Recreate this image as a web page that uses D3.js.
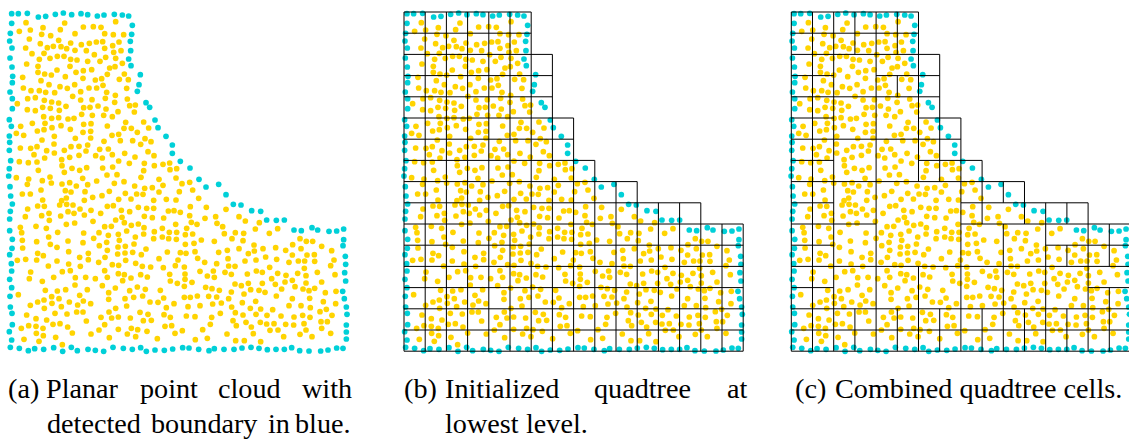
<!DOCTYPE html>
<html><head><meta charset="utf-8">
<script src="https://cdn.jsdelivr.net/npm/d3@7"></script>
<style>html,body{margin:0;background:#fff}svg{display:block}text{font-family:"Liberation Serif",serif;font-size:28.2px;fill:#000}</style>
</head><body><svg id="c" width="1129" height="442"></svg>
<script>
const boundaryPoints=[[35,41],[55,41],[82,40],[115,51],[137,49],[166,43],[190,39],[215,44],[243,41],[263,44],[292,48],[312,45],[343,43],[367,45],[386,48],[397,76],[395,103],[391,124],[392,152],[386,177],[393,197],[421,224],[417,254],[412,274],[438,308],[449,322],[465,360],[474,383],[498,409],[517,435],[517,460],[541,484],[570,504],[597,538],[35,70],[31,100],[29,123],[36,144],[30,174],[36,201],[38,229],[37,248],[30,276],[37,296],[37,326],[28,359],[34,379],[28,408],[29,427],[28,451],[32,482],[28,506],[26,528],
[30,560],[32,588],[37,612],[31,634],[29,657],[29,692],[37,718],[36,745],[29,764],[34,791],[35,813],[29,838],[35,863],[30,889],[31,921],[36,940],[37,974],[28,995],[35,1020],[31,1042],[58,1045],[85,1052],[104,1046],[131,1048],[161,1043],[188,1054],[214,1042],[232,1052],[264,1048],[286,1051],[311,1054],[339,1042],[370,1045],[397,1048],[422,1043],[439,1054],[465,1050],[493,1051],[518,1047],[548,1043],[567,1044],[596,1048],[627,1052],[643,1046],[672,1048],[702,1048],[726,1044],[753,1042],[777,1045],[802,1049],[828,1048],[853,1048],[875,1043],[899,1052],[927,1053],[962,1053],[984,1050],[1010,1044],[1029,1045],[1039,1017],[1039,996],[1039,975],[1041,943],[1039,921],[1033,896],[1028,874],[1037,843],[1034,818],[1037,793],[1036,769],[1029,737],[1031,719],[1031,687],[1010,693],[987,694],[953,690],[936,683],[904,692],[882,690],[853,660],[829,661],[800,660],[782,634],[755,632],[723,615],[700,613],[678,584],[656,553],[618,561]];
const interiorTop=[[78,68],[194,69],[347,65],[129,83],[250,81],[280,80],[303,82],[58,94],[91,90],[181,89],[125,103],[152,107],[225,101],[314,101],[340,104],[371,104],[88,117],[176,121],[121,131],[212,129],[244,134],[268,130],[289,126],[308,125],[357,126],[338,137],[77,144],[142,143],[160,139],[183,140],[200,146],[225,151],[259,152],[314,145],[341,157],[363,152],[96,161],[132,160],[283,164],[118,178],[150,175],[172,169],[192,169],[212,178],[231,180],[263,184],[300,184],[317,172],[347,175],[367,190],[80,192],[114,199],[210,199],[329,204],[345,200],[114,217],[134,222],[154,225],[171,210],[228,217],[250,212],[275,209],[322,223],[373,222],[68,232],[196,230],[249,235],[286,240],[305,236],[358,238],[385,239],[123,242],[147,254],[180,260],[202,265],[224,254],[309,256],[70,264],[93,272],[118,272],[137,277],[164,278],[242,275],[267,264],[290,264],[320,277],[380,265],[346,286],[218,289],[83,296],[106,293],[133,301],[155,306],[176,309],[242,300],[276,299],[316,295],[344,307],[382,297],[52,311],[198,319],[294,318],[389,317],[406,315],[82,329],[106,332],[128,322],[151,325],[178,331],[251,323],[270,322],[318,327],[354,335],[403,336],[131,350],[155,355],[176,353],[204,357],[222,355],[245,343],[277,346],[311,346],[337,350],[97,370],[135,370],[62,379],[183,377],[156,383],[251,373],[273,371],[322,378],[377,367],[431,366],[372,385],[394,385],[446,384],[112,393],[132,389],[211,388],[49,400],[71,406],[249,397],[272,394],[412,397],[336,406],[356,403],[163,409],[226,415],[272,414],[126,420],[361,422],[312,424],[398,422],[435,416],[453,425],[422,433],[61,444],[92,445],[111,440],[162,432],[213,440],[237,439],[263,435],[299,448],[325,447],[140,452],[258,453],[444,455],[163,459],[102,464],[237,466],[209,472],[193,451],[287,467],[307,474],[337,464],[374,460],[405,471],[462,467],[134,474],[185,479],[58,485],[85,488],[111,486],[356,483],[388,490],[433,490],[489,493],[463,497],[509,489],[186,497],[338,501],[308,504],[216,505],[260,503],[239,511],[115,511],[193,517],[431,512],[510,509],[530,506],[321,525],[351,524],[150,531],[49,533],[86,537],[248,535],[423,532],[477,538],[528,534]];
// second half: y values relative to the lower crop of the cloud
const interiorLower=[[127,2],[154,9],[186,12],[209,8],[229,18],[263,14],[290,3],[343,10],[372,5],[404,18],[434,25],[457,23],[489,16],[546,11],[569,7],[82,13],[123,30],[196,32],[213,36],[255,35],[67,42],[91,42],[328,34],[376,40],[410,42],[429,43],[477,36],[538,35],[578,30],[278,52],[306,47],[199,54],[128,60],[185,62],[253,61],[356,58],[393,57],[461,61],[499,58],[528,60],[596,55],[113,78],[133,79],[179,75],[200,73],[219,75],[322,79],[340,77],[415,82],[440,85],[461,85],[571,80],[619,82],[83,87],[240,87],[273,91],[364,91],[389,95],[505,93],[522,92],[541,97],[678,88],[125,107],[147,100],[182,108],[204,95],[222,100],[253,105],[302,100],[76,110],[366,112],[433,109],[457,113],[491,114],[569,107],[615,115],[647,110],[717,110],[736,123],[778,128],[148,121],[347,120],[279,124],[373,128],[574,127],[651,130],[199,133],[224,129],[394,136],[415,132],[527,133],[591,133],[668,140],[108,139],[61,142],[139,145],[314,140],[334,139],[432,143],[487,145],[560,145],[766,147],[833,146],[65,158],[173,157],[251,159],[297,158],[325,166],[355,163],[380,153],[463,155],[508,157],[530,157],[556,164],[578,162],[673,161],[706,158],[731,160],[808,160],[146,171],[281,175],[406,171],[431,162],[461,176],[487,171],[506,176],[529,178],[604,180],[696,176],[900,176],[67,181],[110,185],[204,183],[249,188],[320,187],[358,181],[402,192],[556,193],[582,190],[643,184],[729,182],[919,184],[938,184],[151,193],[171,202],[298,197],[354,201],[376,199],[762,195],[878,194],[68,204],[206,215],[322,211],[438,207],[375,219],[353,222],[398,217],[502,216],[541,218],[558,220],[585,215],[656,217],[682,211],[717,206],[763,213],[789,206],[827,203],[857,211],[903,206],[965,199],[995,212],[113,220],[130,227],[265,220],[239,232],[424,224],[745,221],[877,225],[921,225],[943,224],[797,231],[52,241],[77,238],[110,240],[171,243],[265,239],[315,232],[296,247],[377,241],[407,250],[477,236],[534,240],[593,235],[684,236],[614,247],[650,251],[735,243],[768,240],[830,238],[867,247],[895,243],[914,243],[944,244],[1002,240],[145,258],[206,252],[241,259],[337,254],[356,256],[427,259],[452,261],[490,263],[526,257],[553,261],[686,258],[705,259],[992,257],[913,265],[809,262],[92,276],[187,275],[211,272],[314,272],[355,281],[373,284],[422,284],[442,291],[509,283],[555,282],[600,274],[640,273],[675,277],[694,283],[742,282],[769,273],[787,277],[833,280],[893,280],[952,277],[1005,284],[622,288],[643,292],[858,286],[918,287],[88,296],[161,292],[226,293],[257,292],[286,296],[322,292],[393,294],[368,302],[511,303],[555,298],[815,296],[877,301],[532,310],[576,307],[965,306],[745,310],[787,310],[855,306],[918,309],[127,304],[225,315],[307,317],[553,319],[705,312],[724,317],[826,313],[136,331],[172,333],[197,329],[262,329],[346,324],[389,332],[412,321],[436,328],[481,331],[617,322],[636,326],[658,331],[694,336],[752,329],[777,331],[795,337],[845,327],[885,320],[909,327],[927,332],[944,325],[1008,334],[732,342],[55,344],[326,338],[239,346],[155,350],[177,356],[428,348],[401,352],[375,356],[491,354],[553,352],[571,352],[592,348],[626,349],[650,351],[686,356],[829,348],[877,356],[929,355],[976,338],[970,365],[132,360],[113,366],[91,376],[156,370],[208,366],[250,363],[272,371],[326,358],[450,366],[474,367],[522,371],[664,369],[727,368],[767,364],[1007,371],[133,385],[184,380],[233,375],[380,378],[499,383],[564,380],[600,377],[638,372],[695,381],[751,385],[782,387],[818,389],[867,377],[903,377],[931,383],[979,388],[960,395],[347,385],[327,396],[230,396],[249,396],[165,400],[201,402],[420,397],[444,403],[492,404],[661,400],[706,398],[768,403],[80,405],[801,406],[843,408],[908,406],[996,406],[108,416],[140,420],[303,412],[335,414],[355,411],[391,414],[511,412],[559,408],[585,410],[635,412],[729,405],[882,411],[930,412],[259,423],[430,422],[454,421],[699,422],[738,427],[781,427],[800,432],[822,431],[857,433],[881,435],[912,431],[963,425],[982,425],[64,445],[86,437],[108,439],[129,445],[159,433],[180,431],[203,441],[314,434],[495,439],[515,437],[631,433],[709,437],[754,441],[965,445],[109,460],[130,467],[217,459],[297,450],[355,448],[394,445],[413,449],[441,454],[547,452],[608,449],[810,451],[834,450],[918,450],[992,460],[273,462],[382,462],[407,470],[525,460],[681,462],[760,461],[851,470],[900,463],[936,470],[72,478],[167,472],[328,473],[472,476],[586,479],[622,475],[707,482],[733,482],[782,485],[117,484],[187,494]];
const lowerCropStart=540;
const rowWidths=[6,6,7,7,7,8,8,9,11,14,16,16,16,16,16,16];
const combinedH=[[0,0,6],[1,0,6],[2,0,7],[3,0,2],[3,4,7],[4,0,7],[5,0,2],[5,6,8],[6,0,8],[7,0,2],[7,6,9],[8,0,11],[9,0,2],[9,8,14],[10,0,4],[10,8,16],[11,0,2],[11,12,16],[12,0,16],[13,0,2],[13,14,16],[14,0,16],[15,0,16],[16,0,16]];
const combinedV=[[0,0,16],[1,0,16],[2,0,16],[3,0,2],[3,14,16],[4,0,16],[5,0,2],[5,3,4],[5,14,16],[6,0,8],[6,12,16],[7,2,8],[7,14,16],[8,5,16],[9,7,10],[9,14,16],[10,8,9],[10,10,16],[11,8,10],[11,14,16],[12,9,16],[13,9,10],[13,11,12],[13,14,16],[14,9,16],[15,10,12],[15,13,16],[16,10,16]];
const captions=[
 {y:398,words:[["(a)",8],["Planar",46],["point",140],["cloud",218],["with",302]]},
 {y:433,words:[["detected",47],["boundary",151],["in",268],["blue.",295]]},
 {y:398,words:[["(b)",404],["Initialized",445],["quadtree",594],["at",727]]},
 {y:433,words:[["lowest",445],["level.",526]]},
 {y:398,words:[["(c)",795],["Combined quadtree cells.",835]]}
];
const svg=d3.select("#c");
const px=d3.scaleLinear().domain([0,1080]).range([0,360]);
const py=d3.scaleLinear().domain([0,1080]).range([0,360]);
const cx=d3.scaleLinear().domain([0,16]).range([0,339.2]);
const cy=d3.scaleLinear().domain([0,16]).range([0,339.2]);
const interior=interiorTop.concat(interiorLower.map(d=>[d[0],d[1]+lowerCropStart]));
function panel(dx){
 const g=svg.append("g").attr("transform",`translate(${dx},0)`);
 g.selectAll("circle.y").data(interior).join("circle").attr("class","y").attr("cx",d=>px(d[0])).attr("cy",d=>py(d[1])).attr("r",2.85).attr("fill","#ffd400");
 g.selectAll("circle.b").data(boundaryPoints).join("circle").attr("class","b").attr("cx",d=>px(d[0])).attr("cy",d=>py(d[1])).attr("r",2.85).attr("fill","#00d0d8");
 return g;
}
function grid(dx,h,v){
 const x0=dx,y0=12;
 const g=svg.append("g").attr("transform",`translate(${x0},${y0})`).attr("stroke","#000").attr("stroke-width",1);
 g.selectAll("line.h").data(h).join("line").attr("class","h").attr("x1",d=>cx(d[1])).attr("x2",d=>cx(d[2])).attr("y1",d=>cy(d[0])).attr("y2",d=>cy(d[0]));
 g.selectAll("line.v").data(v).join("line").attr("class","v").attr("x1",d=>cx(d[0])).attr("x2",d=>cx(d[0])).attr("y1",d=>cy(d[1])).attr("y2",d=>cy(d[2]));
}
panel(0);panel(395.3);panel(782.4);
// lowest-level grid from the staircase widths
const fullH=[],fullV=[];
d3.range(17).forEach(r=>{const w=Math.max(rowWidths[r]||0,rowWidths[r-1]||0);fullH.push([r,0,w]);});
d3.range(17).forEach(c=>{const first=rowWidths.findIndex(w=>w>=c);fullV.push([c,first,16]);});
grid(404,fullH,fullV);
grid(791.3,combinedH,combinedV);
captions.forEach(l=>l.words.forEach(w=>svg.append("text").attr("x",w[1]).attr("y",l.y).text(w[0])));
</script></body></html>
